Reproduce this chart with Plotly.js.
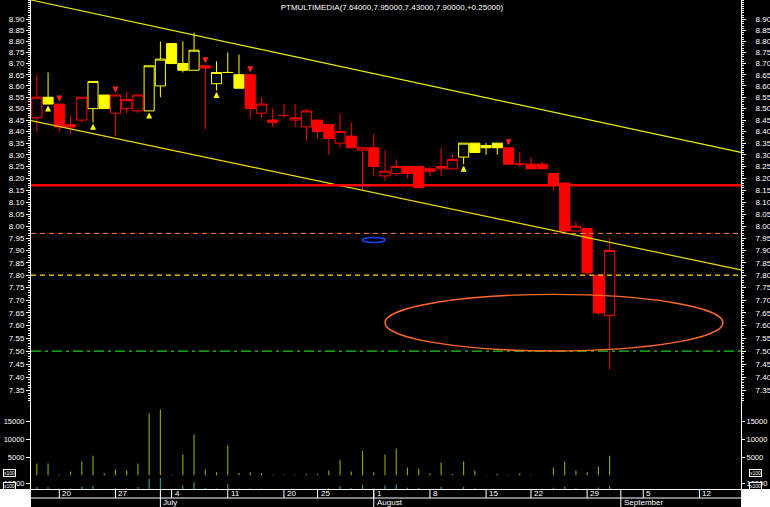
<!DOCTYPE html>
<html><head><meta charset="utf-8">
<script src="https://cdn.plot.ly/plotly-3.0.1.min.js"></script>
<style>html,body{margin:0;padding:0;background:#000;}#chart{width:770px;height:507px;}</style>
</head><body><div id="chart"></div>
<script>
// ---- data (trading-day index, OHLC, colour class, volume) ----
const dayIndex = [0,1,2,3,4,5,6,7,8,9,10,11,12,13,14,15,16,17,18,19,20,21,22,23,24,25,26,27,28,29,30,31,32,33,34,35,36,37,38,39,40,41,42,43,44,45,46,47,48,49,50,51];
const openP  = [8.46,8.55,8.52,8.43,8.45,8.50,8.56,8.48,8.50,8.49,8.49,8.60,8.79,8.70,8.67,8.69,8.61,8.66,8.65,8.65,8.48,8.45,8.47,8.45,8.42,8.45,8.43,8.35,8.38,8.32,8.33,8.21,8.22,8.25,8.25,8.24,8.24,8.24,8.29,8.35,8.34,8.35,8.33,8.26,8.26,8.26,8.22,8.18,7.98,7.99,7.80,7.64];
const highP  = [8.65,8.66,8.52,8.47,8.55,8.62,8.56,8.56,8.57,8.56,8.69,8.80,8.79,8.80,8.84,8.69,8.71,8.75,8.74,8.65,8.55,8.50,8.52,8.52,8.50,8.45,8.43,8.48,8.44,8.33,8.39,8.32,8.28,8.25,8.25,8.25,8.33,8.30,8.35,8.35,8.35,8.35,8.33,8.31,8.29,8.27,8.22,8.18,8.02,7.99,7.80,7.95];
const lowP   = [8.40,8.52,8.40,8.39,8.44,8.44,8.50,8.38,8.48,8.48,8.49,8.55,8.70,8.66,8.67,8.41,8.58,8.66,8.59,8.46,8.46,8.42,8.46,8.42,8.36,8.37,8.30,8.33,8.33,8.15,8.21,8.19,8.21,8.20,8.16,8.21,8.21,8.24,8.26,8.31,8.30,8.30,8.26,8.25,8.24,8.24,8.15,7.97,7.98,7.80,7.64,7.43];
const closeP = [8.55,8.52,8.42,8.42,8.55,8.62,8.50,8.56,8.54,8.56,8.69,8.72,8.70,8.67,8.76,8.68,8.66,8.66,8.59,8.50,8.52,8.44,8.47,8.46,8.49,8.40,8.37,8.40,8.33,8.33,8.25,8.23,8.25,8.22,8.16,8.23,8.25,8.28,8.35,8.31,8.33,8.33,8.26,8.26,8.24,8.24,8.17,7.98,8.00,7.81,7.65,7.90];
const candleColour = ['R','Y','R','R','R','Y','Y','R','R','R','Y','Y','Y','Y','Y','R','Y','Y','Y','R','R','R','R','R','R','R','R','R','R','R','R','R','R','R','R','R','R','R','Y','Y','Y','Y','R','R','R','R','R','R','R','R','R','R'];
const volume = [3300,3300,300,1100,3900,5500,600,1700,1400,3300,17200,18300,200,5800,11400,1700,900,8300,700,900,700,200,200,200,400,400,1400,4400,1100,6900,900,5800,7500,2200,1900,600,3600,400,3900,1400,200,400,200,600,200,100,2200,3900,1400,900,2500,5500];

// signal arrows
const buyIdx = [1,5,10,16,38];
const sellIdx = [2,7,15,19,42];

// drawn objects (index, price)
const trendX = [-0.52, 62.7];
const upperTrendY = [8.99, 8.31];
const lowerTrendY = [8.448, 7.821];
const levelRed = 8.17, levelOrange = 7.97, levelYellow = 7.80, levelGreen = 7.50;
const bigEllipse = {x:[31.0, 61.1], y:[7.501, 7.723]};
const smallEllipse = {x:[29.0, 31.0], y:[7.933, 7.953]};

// axis labels
const priceTickLabels = ['7.35','7.40','7.45','7.50','7.55','7.60','7.65','7.70','7.75','7.80','7.85','7.90','7.95','8.00','8.05','8.10','8.15','8.20','8.25','8.30','8.35','8.40','8.45','8.50','8.55','8.60','8.65','8.70','8.75','8.80','8.85','8.90'];
const volTickVals = [5000,10000,15000];
const volTickText = ['5000','10000','15000'];
const vol2TickVals = [10000];
const vol2TickText = ['10000'];
const dayLabels = ['20','27','4','11','20','25','1','8','15','22','29','5','12'];
const dayLabelIdx = [2,7,12,17,22,25,30,35,40,44,49,54,59];
const monthLabels = ['July','August','September'];
const monthIdx = [11,30,52];

const xr = [-0.52, 62.7];
const priceRange = [Math.log10(7.306), Math.log10(8.99)];
const H = 489; // plot-area height in px
const FONT = 'Liberation Sans, Arial, sans-serif';

function pick(arr, col){ return arr.filter((v,i)=>candleColour[i]===col); }
function candle(col, colour){
  return {type:'candlestick', x:pick(dayIndex,col), open:pick(openP,col), high:pick(highP,col), low:pick(lowP,col), close:pick(closeP,col),
    xaxis:'x', yaxis:'y', whiskerwidth:0, hoverinfo:'skip',
    increasing:{line:{color:colour,width:1}, fillcolor:'rgba(0,0,0,0)'},
    decreasing:{line:{color:colour,width:1}, fillcolor:colour}};
}
const traces = [
  candle('Y','#ffff00'), candle('R','#ff0000'),
  {type:'scatter', mode:'lines', x:trendX, y:upperTrendY, line:{color:'#eeee00', width:1.2}, hoverinfo:'skip'},
  {type:'scatter', mode:'lines', x:trendX, y:lowerTrendY, line:{color:'#eedd00', width:1.2}, hoverinfo:'skip'},
  {type:'scatter', mode:'lines', x:xr, y:[levelRed,levelRed], line:{color:'#ff0000', width:2.5}, hoverinfo:'skip'},
  {type:'scatter', mode:'lines', x:xr, y:[levelOrange,levelOrange], line:{color:'#ff7f40', width:1, dash:'5px,4px'}, hoverinfo:'skip'},
  {type:'scatter', mode:'lines', x:xr, y:[levelYellow,levelYellow], line:{color:'#ffdd00', width:1.3, dash:'5px,4px'}, hoverinfo:'skip'},
  {type:'scatter', mode:'lines', x:xr, y:[levelGreen,levelGreen], line:{color:'#22cc22', width:1.3, dash:'10px,4px,3px,4px'}, hoverinfo:'skip'},
  {type:'bar', x:dayIndex, y:volume, width:0.1, marker:{color:'#a0a000', line:{width:0}}, xaxis:'x', yaxis:'y3', hoverinfo:'skip'},
  {type:'bar', x:dayIndex, y:volume, width:0.1, marker:{color:'#3a9c9c', line:{width:0}}, xaxis:'x', yaxis:'y5', hoverinfo:'skip'},
  {type:'scatter', mode:'lines', x:dayIndex, y:closeP, yaxis:'y2', opacity:0, line:{width:0}, hoverinfo:'skip'},
  {type:'scatter', mode:'lines', x:dayIndex, y:volume, yaxis:'y4', opacity:0, line:{width:0}, hoverinfo:'skip'},
  {type:'scatter', mode:'lines', x:dayIndex, y:volume, yaxis:'y6', opacity:0, line:{width:0}, hoverinfo:'skip'}
];

const axBase = {showgrid:false, zeroline:false, showline:true, linecolor:'#fff', linewidth:1, ticks:'outside', ticklen:4, tickwidth:1, tickcolor:'#fff',
  tickfont:{family:FONT, size:8, color:'#fff'}, fixedrange:true};
const volFont = {family:FONT, size:7.5, color:'#fff'};
const priceTickVals = priceTickLabels.map(Number);
const priceAx = Object.assign({}, axBase, {type:'log', range:priceRange, tickmode:'array', tickvals:priceTickVals, ticktext:priceTickLabels,
  minor:{dtick:'L0.01', tick0:7.30, ticks:'outside', ticklen:2, tickcolor:'#fff', tickwidth:1}});

const domPrice = [1-402/H, 1];
const domVol = [1-475.5/H, 1-402/H];
const domVol2 = [0, 1-476/H];

const px = i => (i - xr[0])/(xr[1]-xr[0]);
const shapes = [];
const annotations = [];
// white corners below the plot
shapes.push({type:'rect', xref:'paper', yref:'paper', x0:-31/710, x1:0, y0:-18/H, y1:0, fillcolor:'#fff', line:{width:0}, layer:'above'});
shapes.push({type:'rect', xref:'paper', yref:'paper', x0:1, x1:1+29/710, y0:-18/H, y1:0, fillcolor:'#fff', line:{width:0}, layer:'above'});
// row separator
shapes.push({type:'line', xref:'paper', yref:'paper', x0:0, x1:1, y0:-9/H, y1:-9/H, line:{color:'#fff', width:1}});
dayLabelIdx.concat(monthIdx).forEach(i=>{
  shapes.push({type:'line', xref:'paper', yref:'paper', x0:px(i), x1:px(i), y0:-9/H, y1:0, line:{color:'#fff', width:1}});
});
monthIdx.forEach(i=>{
  shapes.push({type:'line', xref:'paper', yref:'paper', x0:px(i), x1:px(i), y0:-18/H, y1:-9/H, line:{color:'#fff', width:1}});
});
dayLabels.forEach((t,k)=>annotations.push({xref:'x', yref:'paper', x:dayLabelIdx[k], y:-4.5/H, text:t, showarrow:false, xanchor:'left', yanchor:'middle', xshift:1, font:{family:FONT,size:8,color:'#fff'}}));
monthLabels.forEach((t,k)=>annotations.push({xref:'x', yref:'paper', x:monthIdx[k], y:-13.5/H, text:t, showarrow:false, xanchor:'left', yanchor:'middle', xshift:1, font:{family:FONT,size:8,color:'#fff'}}));
// ellipses
shapes.push({type:'circle', xref:'x', yref:'y', x0:bigEllipse.x[0], x1:bigEllipse.x[1], y0:bigEllipse.y[0], y1:bigEllipse.y[1], line:{color:'#ff6a2a', width:1.4}, layer:'above'});
shapes.push({type:'circle', xref:'x', yref:'y', x0:smallEllipse.x[0], x1:smallEllipse.x[1], y0:smallEllipse.y[0], y1:smallEllipse.y[1], line:{color:'#1a3cff', width:1.5}, layer:'above'});
// signal arrows
buyIdx.forEach(i=>annotations.push({xref:'x', yref:'y', x:i, y:Math.log10(lowP[i]), text:'', showarrow:true, ax:0, ay:8, standoff:1.5, arrowhead:2, arrowsize:0.6, arrowwidth:2, arrowcolor:'#ffff00'}));
sellIdx.forEach(i=>annotations.push({xref:'x', yref:'y', x:i, y:Math.log10(highP[i]), text:'', showarrow:true, ax:0, ay:-8, standoff:2.5, arrowhead:2, arrowsize:0.6, arrowwidth:2, arrowcolor:'#ff2020'}));
// x100 boxes
[[-22/710, 1-472.5/H],[-22/710, 1-485.5/H],[1+14/710, 1-472.5/H],[1+14/710, 1-485.5/H]].forEach(p=>annotations.push({xref:'paper', yref:'paper', x:p[0], y:p[1], text:'x100', showarrow:false, xanchor:'center', yanchor:'middle', bgcolor:'#000', bordercolor:'#fff', borderwidth:1, borderpad:0, font:{family:FONT,size:5,color:'#fff'}}));

const layout = {
  width:770, height:507, paper_bgcolor:'#000', plot_bgcolor:'#000',
  margin:{l:31, r:29, t:0, b:18, pad:0}, showlegend:false, boxgap:0.1, boxgroupgap:0, dragmode:false,
  font:{family:FONT, size:8, color:'#fff'},
  title:{text:'PTMULTIMEDIA(7.64000,7.95000,7.43000,7.90000,+0.25000)', x:0.509, xanchor:'center', y:1-7/507, yanchor:'middle', yref:'container', font:{family:FONT, size:8, color:'#fff'}},
  xaxis:{range:xr, showgrid:false, zeroline:false, showticklabels:false, ticks:'', showline:true, linecolor:'#fff', linewidth:1, anchor:'y5', rangeslider:{visible:false}, fixedrange:true},
  yaxis:Object.assign({}, priceAx, {domain:domPrice, side:'left', anchor:'x'}),
  yaxis2:Object.assign({}, priceAx, {overlaying:'y', side:'right', anchor:'x', ticklabelstandoff:8}),
  yaxis3:Object.assign({}, axBase, {domain:domVol, range:[0,(475.5-402)/18*5000], tickmode:'array', tickvals:volTickVals, ticktext:volTickText, tickfont:volFont, side:'left', anchor:'x'}),
  yaxis4:Object.assign({}, axBase, {overlaying:'y3', range:[0,(475.5-402)/18*5000], tickmode:'array', tickvals:volTickVals, ticktext:volTickText, tickfont:volFont, ticklen:3, side:'right', anchor:'x', ticklabelstandoff:0}),
  yaxis5:Object.assign({}, axBase, {domain:domVol2, range:[0,21667], tickmode:'array', tickvals:vol2TickVals, ticktext:vol2TickText, tickfont:volFont, side:'left', anchor:'x'}),
  yaxis6:Object.assign({}, axBase, {overlaying:'y5', range:[0,21667], tickmode:'array', tickvals:vol2TickVals, ticktext:vol2TickText, tickfont:volFont, ticklen:3, side:'right', anchor:'x', ticklabelstandoff:0}),
  shapes:shapes, annotations:annotations
};
Plotly.newPlot('chart', traces, layout, {staticPlot:true, displayModeBar:false});
</script></body></html>
